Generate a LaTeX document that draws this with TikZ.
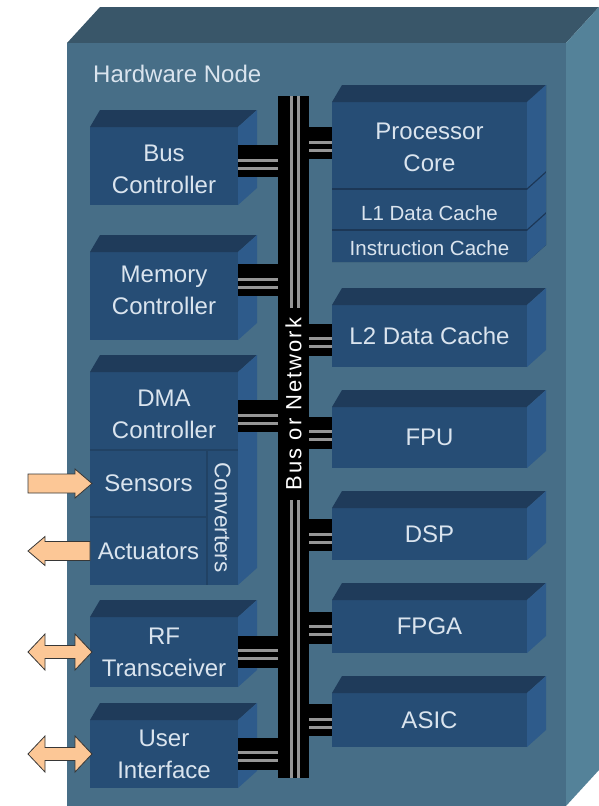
\documentclass[tikz,border=0pt]{standalone}
\usepackage{fontspec}
\setmainfont{Liberation Sans}
\usetikzlibrary{calc}
\definecolor{outerfront}{RGB}{71,110,135}
\definecolor{outertop}{RGB}{57,86,105}
\definecolor{outerright}{RGB}{84,130,153}
\definecolor{blkfront}{RGB}{38,77,117}
\definecolor{blktop}{RGB}{31,59,90}
\definecolor{blkright}{RGB}{46,91,139}
\definecolor{blkline}{RGB}{28,55,86}
\definecolor{divcol}{RGB}{33,66,100}
\definecolor{txtcol}{RGB}{218,228,238}
\definecolor{stripegray}{RGB}{150,150,150}
\definecolor{peach}{RGB}{252,199,150}
\definecolor{arrowline}{RGB}{55,55,55}
\newcommand\blockfaces[1]{%
  \fill[blktop] (#1.north west) -- ++(10,-17) -- ($(#1.north east)+(19,-17)$) -- (#1.north east) -- cycle;
  \fill[blkright] (#1.north east) -- ++(19,-17) -- ($(#1.south east)+(19,-17)$) -- (#1.south east) -- cycle;}
\newcommand\sideface[1]{%
  \fill[blkright] (#1.north east) -- ++(19,-17) -- ($(#1.south east)+(19,-17)$) -- (#1.south east) -- cycle;}
\newcommand\linkbar[2]{%
  \draw[line width=32pt] (#1) -- (#2);
  \draw[stripegray, line width=3pt] ($(#1)+(0,-1)$) -- ($(#2)+(0,-1)$);
  \draw[stripegray, line width=3pt] ($(#1)+(0,7)$) -- ($(#2)+(0,7)$);}
\newcommand\dblarrow[1]{%
  \draw[harrow] (#1) -- ++(-17,-18) -- ++(0,11.5) -- ++(-30,0) -- ++(0,-11.5) -- ++(-17,18)
    -- ++(17,18) -- ++(0,-11.5) -- ++(30,0) -- ++(0,11.5) -- cycle;}
\begin{document}
\begin{tikzpicture}[x=1pt,y=-1pt,
  blk/.style={fill=blkfront, draw=none, inner sep=0pt, outer sep=0pt, text=txtcol,
              font=\fontsize{24}{32}\selectfont, align=center},
  lbl/.style={text=txtcol, font=\fontsize{24}{32}\selectfont, align=center, inner sep=0pt},
  smalltxt/.style={font=\fontsize{20.5}{24}\selectfont},
  cell/.style={inner sep=0pt, outer sep=0pt, text=txtcol, font=\fontsize{24}{32}\selectfont},
  divider/.style={draw=divcol, line width=1.5pt},
  harrow/.style={fill=peach, draw=arrowline, line width=0.8pt, line join=miter}]
\useasboundingbox (0,0) rectangle (599,806);
% outer hardware node
\fill[outertop] (67,43) -- (100,7) -- (599,7) -- (566,43) -- cycle;
\fill[outerright] (566,43) -- (599,7) -- (599,770) -- (566,806) -- cycle;
\node[fill=outerfront, minimum width=499, minimum height=763, inner sep=0pt, outer sep=0pt,
      anchor=north west] (hw) at (67,43) {};
\node[lbl, anchor=west] (hwlabel) at (93,74) {Hardware Node};

% left column
\node[blk, minimum width=148, minimum height=78] (busctl) at (164,166) {};
\blockfaces{busctl}
\node[lbl] (busctlt) at (164,169) {Bus\\Controller};

\node[blk, minimum width=148, minimum height=88] (memctl) at (164,296) {};
\blockfaces{memctl}
\node[lbl] (memctlt) at (164,290) {Memory\\Controller};

\node[blk, minimum width=148, minimum height=213] (dmablk) at (164,478.5) {};
\blockfaces{dmablk}
\node[lbl] (dmat) at (164,414) {DMA\\Controller};
\node[cell, minimum width=117, minimum height=67] (sens) at (148.5,483.5) {Sensors};
\node[cell, minimum width=117, minimum height=68] (act) at (148.5,551) {Actuators};
\node[cell, minimum width=31, minimum height=135] (conv) at (222.5,517.5) {};
\node[lbl, rotate=-90, font=\fontsize{22.5}{26}\selectfont] (convt) at (222.5,517.5) {Converters};
\draw[divider] (sens.north west) -- (conv.north east);
\draw[divider] (sens.north east) -- (act.south east);
\draw[divider] (sens.south west) -- (sens.south east);

\node[blk, minimum width=148, minimum height=70] (rf) at (164,652) {RF\\Transceiver};
\blockfaces{rf}
\node[blk, minimum width=148, minimum height=68] (ui) at (164,754) {User\\Interface};
\blockfaces{ui}

% right column
\node[inner sep=0pt, outer sep=0pt, minimum width=195, minimum height=86] (proc) at (429.5,145) {};
\node[inner sep=0pt, outer sep=0pt, minimum width=195, minimum height=39] (l1) at (429.5,209.5) {};
\node[inner sep=0pt, outer sep=0pt, minimum width=195, minimum height=31] (icache) at (429.5,246.5) {};
\fill[blkline] (proc.north west) -- (proc.north east) -- ++(19,-17)
  -- ($(icache.south east)+(19,-17)$) -- (icache.south east) -- (icache.south west) -- cycle;
\fill[blkfront] (proc.north west) rectangle (proc.south east);
\fill[blkfront] (l1.north west) rectangle (l1.south east);
\fill[blkfront] (icache.north west) rectangle (icache.south east);
\blockfaces{proc}
\sideface{l1}
\sideface{icache}
\node[lbl] (proct) at (429.5,147.5) {Processor\\Core};
\node[lbl, smalltxt] (l1t) at (429.5,213) {L1 Data Cache};
\node[lbl, smalltxt] (icachet) at (429.5,248) {Instruction Cache};

\node[blk, minimum width=195, minimum height=62] (l2) at (429.5,336) {L2 Data Cache};
\blockfaces{l2}
\node[blk, minimum width=195, minimum height=61] (fpu) at (429.5,437.5) {FPU};
\blockfaces{fpu}
\node[blk, minimum width=195, minimum height=52] (dsp) at (429.5,534) {DSP};
\blockfaces{dsp}
\node[blk, minimum width=195, minimum height=53] (fpga) at (429.5,626.5) {FPGA};
\blockfaces{fpga}
\node[blk, minimum width=195, minimum height=54] (asic) at (429.5,720) {ASIC};
\blockfaces{asic}

% bus
\node[fill=black, minimum width=31, minimum height=682, inner sep=0pt, outer sep=0pt] (bus) at (293.5,437) {};
\draw[stripegray, line width=3pt] ($(bus.north)+(-2,0)$) -- ($(bus.south)+(-2,0)$);
\draw[stripegray, line width=3pt] ($(bus.north)+(5,0)$) -- ($(bus.south)+(5,0)$);
\node[fill=black, rotate=90, minimum width=192, minimum height=29, inner sep=0pt, text=white,
      font=\fontsize{22}{26}\selectfont\addfontfeature{LetterSpace=9}] (buslbl) at (293.5,404) {Bus or Network};

% connectors
\coordinate (cbus) at ($(busctl.east)+(0,-5)$);
\coordinate (cmem) at ($(memctl.east)+(0,-16)$);
\coordinate (cdma) at ($(dmablk.north east)+(0,44)$);
\coordinate (crf) at ($(rf.east)+(0,-0.5)$);
\coordinate (cui) at ($(ui.east)+(0,-0.5)$);
\linkbar{cbus}{cbus -| bus.west}
\linkbar{cmem}{cmem -| bus.west}
\linkbar{cdma}{cdma -| bus.west}
\linkbar{crf}{crf -| bus.west}
\linkbar{cui}{cui -| bus.west}
\coordinate (cproc) at ($(proc.west)+(0,-2)$);
\coordinate (cl2) at ($(l2.west)+(0,3.5)$);
\coordinate (cfpu) at ($(fpu.west)+(0,-5)$);
\coordinate (cdsp) at ($(dsp.west)+(0,1)$);
\coordinate (cfpga) at ($(fpga.west)+(0,1)$);
\coordinate (casic) at ($(asic.west)+(0,0)$);
\linkbar{cproc -| bus.east}{cproc}
\linkbar{cl2 -| bus.east}{cl2}
\linkbar{cfpu -| bus.east}{cfpu}
\linkbar{cdsp -| bus.east}{cdsp}
\linkbar{cfpga -| bus.east}{cfpga}
\linkbar{casic -| bus.east}{casic}

% arrows
\draw[harrow] ($(sens.west)+(2,0)$) -- ++(-17,-14.5) -- ++(0,5) -- ++(-47,0) -- ++(0,19)
  -- ++(47,0) -- ++(0,5) -- cycle;
\draw[harrow] ($(act.west)+(0,-9.5)$) -- ++(-45,0) -- ++(0,-5) -- ++(-17,14.5) -- ++(17,14.5)
  -- ++(0,-5) -- ++(45,0) -- cycle;
\dblarrow{$(rf.west)+(2,0)$}
\dblarrow{$(ui.west)+(2,0)$}
\end{tikzpicture}
\end{document}
